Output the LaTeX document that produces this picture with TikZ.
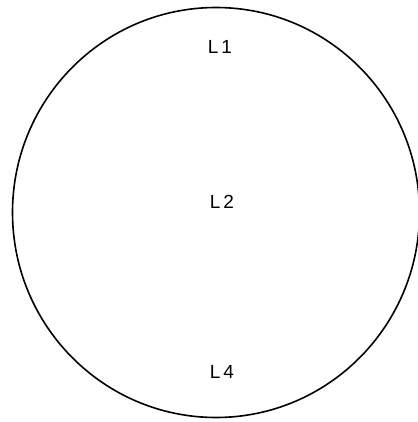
\documentclass[tikz,border=0pt]{standalone}
\usepackage{fontspec}
\setmainfont{Liberation Sans}
\begin{document}
\begin{tikzpicture}[x=1pt,y=-1pt,
  lbl/.style={font=\fontsize{19}{20}\selectfont, inner sep=0pt}]
\useasboundingbox (0,0) rectangle (417,422);
\draw[line width=1.6pt] (216,212.5) ellipse [x radius=203.5, y radius=205];
\node[lbl] (l1) at (220,47) {L\hspace{3pt}1};
\node[lbl] (l2) at (222,202) {L\hspace{3pt}2};
\node[lbl] (l4) at (222,372) {L\hspace{3pt}4};
\end{tikzpicture}
\end{document}
